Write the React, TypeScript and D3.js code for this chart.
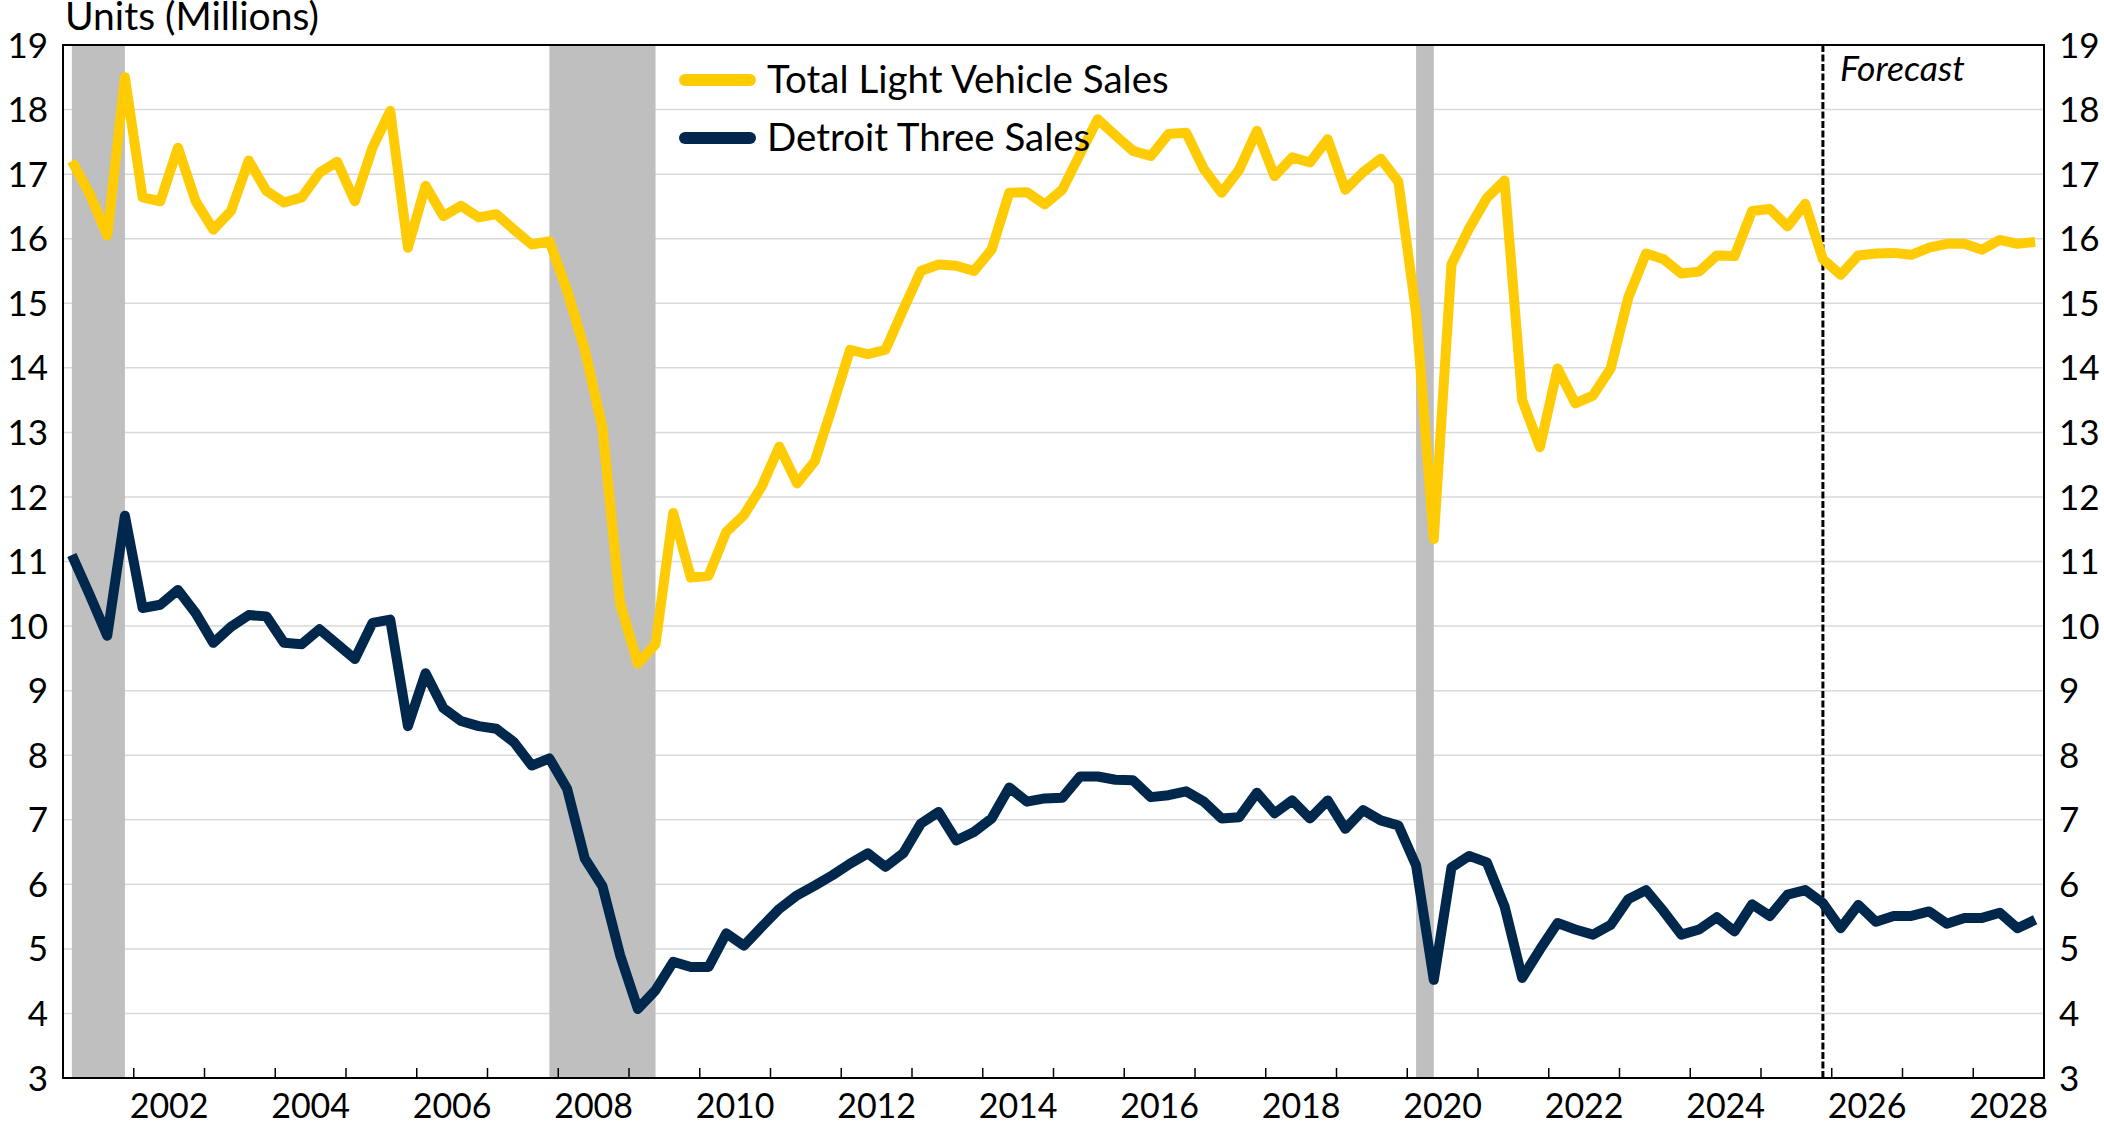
import { useEffect, useRef } from 'react';
import * as d3 from 'd3';

// quarterly, 2001Q1 .. 2028Q4 (millions of units, SAAR)
const years = d3.range(2001, 2029);
const quarters = years.flatMap((y) => [1, 2, 3, 4].map((q) => `${y}Q${q}`));

const totalSales = [
  17.2, 16.7, 16.05, 18.5,
  16.64, 16.58, 17.41, 16.58,
  16.14, 16.43, 17.21, 16.74,
  16.56, 16.64, 17.02, 17.19,
  16.58, 17.41, 17.98, 15.86,
  16.82, 16.35, 16.51, 16.33,
  16.38, 16.14, 15.91, 15.96,
  15.2, 14.28, 13.07, 10.35,
  9.42, 9.72, 11.75, 10.75,
  10.78, 11.46, 11.72, 12.16,
  12.78, 12.21, 12.55, 13.4,
  14.28, 14.21, 14.28, 14.9,
  15.5, 15.6, 15.58, 15.5,
  15.83, 16.71, 16.72, 16.53,
  16.76, 17.31, 17.85, 17.6,
  17.36, 17.28, 17.62, 17.64,
  17.08, 16.71, 17.07, 17.67,
  16.97, 17.26, 17.18, 17.54,
  16.76, 17.03, 17.24, 16.88,
  14.85, 11.35, 15.6, 16.16,
  16.63, 16.9, 13.5, 12.77,
  13.99, 13.45, 13.57, 13.99,
  15.09, 15.77, 15.68, 15.46,
  15.49, 15.74, 15.73, 16.43,
  16.46, 16.19, 16.54, 15.68,
  15.44, 15.74, 15.77, 15.78,
  15.75, 15.86, 15.92, 15.92,
  15.83, 15.98, 15.92, 15.95,
];

const detroitThree = [
  11.1, 10.49, 9.85, 11.71,
  10.28, 10.33, 10.56, 10.2,
  9.74, 9.99, 10.17, 10.15,
  9.74, 9.72, 9.95, 9.72,
  9.49, 10.05, 10.1, 8.45,
  9.27, 8.73, 8.53, 8.45,
  8.41, 8.2, 7.84, 7.95,
  7.48, 6.4, 5.97, 4.9,
  4.07, 4.36, 4.8, 4.72,
  4.72, 5.24, 5.05, 5.34,
  5.62, 5.83, 5.98, 6.14,
  6.32, 6.48, 6.27, 6.48,
  6.94, 7.12, 6.68, 6.81,
  7.02, 7.5, 7.28, 7.33,
  7.34, 7.67, 7.67, 7.62,
  7.61, 7.35, 7.38, 7.44,
  7.28, 7.02, 7.04, 7.42,
  7.1, 7.3, 7.02, 7.3,
  6.86, 7.15, 6.99, 6.91,
  6.29, 4.52, 6.26, 6.44,
  6.34, 5.66, 4.55, 4.99,
  5.4, 5.3, 5.22, 5.37,
  5.77, 5.91, 5.58, 5.22,
  5.3, 5.49, 5.27, 5.69,
  5.51, 5.84, 5.91, 5.71,
  5.32, 5.68, 5.42, 5.51,
  5.51, 5.58, 5.39, 5.48,
  5.48, 5.56, 5.32, 5.45,
];

const recessions: [string, string][] = [
  ['2001Q1', '2001Q4'],
  ['2007Q4', '2009Q2'],
  ['2020Q1', '2020Q2'],
];
const forecastStart = '2025Q4';

const yTicks = d3.range(3, 20);
const yearLabels = d3.range(2002, 2029, 2);

const series = [
  { name: 'Total Light Vehicle Sales', values: totalSales, color: '#FFCB05' },
  { name: 'Detroit Three Sales', values: detroitThree, color: '#00274C' },
];

const W = 2104;
const H = 1126;
const M = { top: 45, right: 60, bottom: 48, left: 63 };
const FONT = 'Lato, "Open Sans", sans-serif';

export default function App() {
  const ref = useRef<SVGSVGElement | null>(null);

  useEffect(() => {
    const el = ref.current;
    if (!el) return;
    const svg = d3.select(el);
    svg.selectAll('*').remove();

    const x = d3.scaleBand<string>().domain(quarters).range([M.left, W - M.right]).padding(0);
    const cx = (q: string) => (x(q) ?? 0) + x.bandwidth() / 2;
    const y = d3.scaleLinear().domain([3, 19]).range([H - M.bottom, M.top]);
    const yearX = d3.scaleLinear().domain([2001, 2029]).range([M.left, W - M.right]);

    // gridlines
    svg.append('g')
      .selectAll('line')
      .data(yTicks.filter((t) => t > 3 && t < 19))
      .join('line')
      .attr('x1', M.left).attr('x2', W - M.right)
      .attr('y1', (d) => y(d)).attr('y2', (d) => y(d))
      .attr('stroke', '#d9d9d9')
      .attr('stroke-width', 1.5);

    // recession shading
    svg.append('g')
      .selectAll('rect')
      .data(recessions)
      .join('rect')
      .attr('x', (d) => cx(d[0]))
      .attr('width', (d) => cx(d[1]) - cx(d[0]))
      .attr('y', M.top)
      .attr('height', H - M.bottom - M.top)
      .attr('fill', '#bfbfbf');

    // forecast divider
    svg.append('line')
      .attr('x1', cx(forecastStart)).attr('x2', cx(forecastStart))
      .attr('y1', M.top).attr('y2', H - M.bottom)
      .attr('stroke', '#000')
      .attr('stroke-width', 3)
      .attr('stroke-dasharray', '7,2.5');

    svg.append('text')
      .text('Forecast')
      .attr('x', cx(forecastStart) + 17)
      .attr('y', 81)
      .attr('font-family', FONT)
      .attr('font-style', 'italic')
      .attr('font-size', 35.5)
      .attr('fill', '#000');

    // x ticks (inward) at year boundaries
    svg.append('g')
      .selectAll('line')
      .data(d3.range(2002, 2029))
      .join('line')
      .attr('x1', (d) => yearX(d)).attr('x2', (d) => yearX(d))
      .attr('y1', H - M.bottom).attr('y2', H - M.bottom - 10)
      .attr('stroke', '#000')
      .attr('stroke-width', 1.5);

    svg.append('g')
      .selectAll('text')
      .data(yearLabels)
      .join('text')
      .text((d) => d)
      .attr('x', (d) => yearX(d + 0.5))
      .attr('y', H - 8)
      .attr('text-anchor', 'middle')
      .attr('font-family', FONT)
      .attr('font-size', 34)
      .attr('fill', '#000');

    // y labels both sides
    const yl = svg.append('g')
      .attr('font-family', FONT)
      .attr('font-size', 35)
      .attr('fill', '#000');
    yl.selectAll('text.l')
      .data(yTicks)
      .join('text')
      .attr('class', 'l')
      .text((d) => d)
      .attr('x', M.left - 15)
      .attr('y', (d) => y(d))
      .attr('dy', '0.36em')
      .attr('text-anchor', 'end');
    yl.selectAll('text.r')
      .data(yTicks)
      .join('text')
      .attr('class', 'r')
      .text((d) => d)
      .attr('x', W - M.right + 15)
      .attr('y', (d) => y(d))
      .attr('dy', '0.36em')
      .attr('text-anchor', 'start');

    // lines
    const line = d3.line<number>()
      .x((_, i) => cx(quarters[i]))
      .y((d) => y(d));
    svg.append('g')
      .selectAll('path')
      .data(series.slice().reverse())
      .join('path')
      .attr('d', (d) => line(d.values))
      .attr('fill', 'none')
      .attr('stroke', (d) => d.color)
      .attr('stroke-width', 10)
      .attr('stroke-linejoin', 'round');

    // frame
    svg.append('rect')
      .attr('x', M.left).attr('y', M.top)
      .attr('width', W - M.left - M.right)
      .attr('height', H - M.top - M.bottom)
      .attr('fill', 'none')
      .attr('stroke', '#000')
      .attr('stroke-width', 2);

    // title
    svg.append('text')
      .text('Units (Millions)')
      .attr('x', 65)
      .attr('y', 30)
      .attr('font-family', FONT)
      .attr('font-size', 39)
      .attr('fill', '#000');

    // legend
    const lg = svg.append('g');
    series.forEach((s, i) => {
      const ly = 80 + i * 58;
      lg.append('line')
        .attr('x1', 685).attr('x2', 750)
        .attr('y1', ly).attr('y2', ly)
        .attr('stroke', s.color)
        .attr('stroke-width', 12)
        .attr('stroke-linecap', 'round');
      lg.append('text')
        .text(s.name)
        .attr('x', 767)
        .attr('y', ly)
        .attr('dy', '0.33em')
        .attr('font-family', FONT)
        .attr('font-size', 38.5)
        .attr('fill', '#000');
    });
  }, []);

  return (
    <>
      <style>{'body{margin:0}'}</style>
      <svg ref={ref} width={W} height={H} style={{ display: 'block', background: '#fff' }} />
    </>
  );
}
